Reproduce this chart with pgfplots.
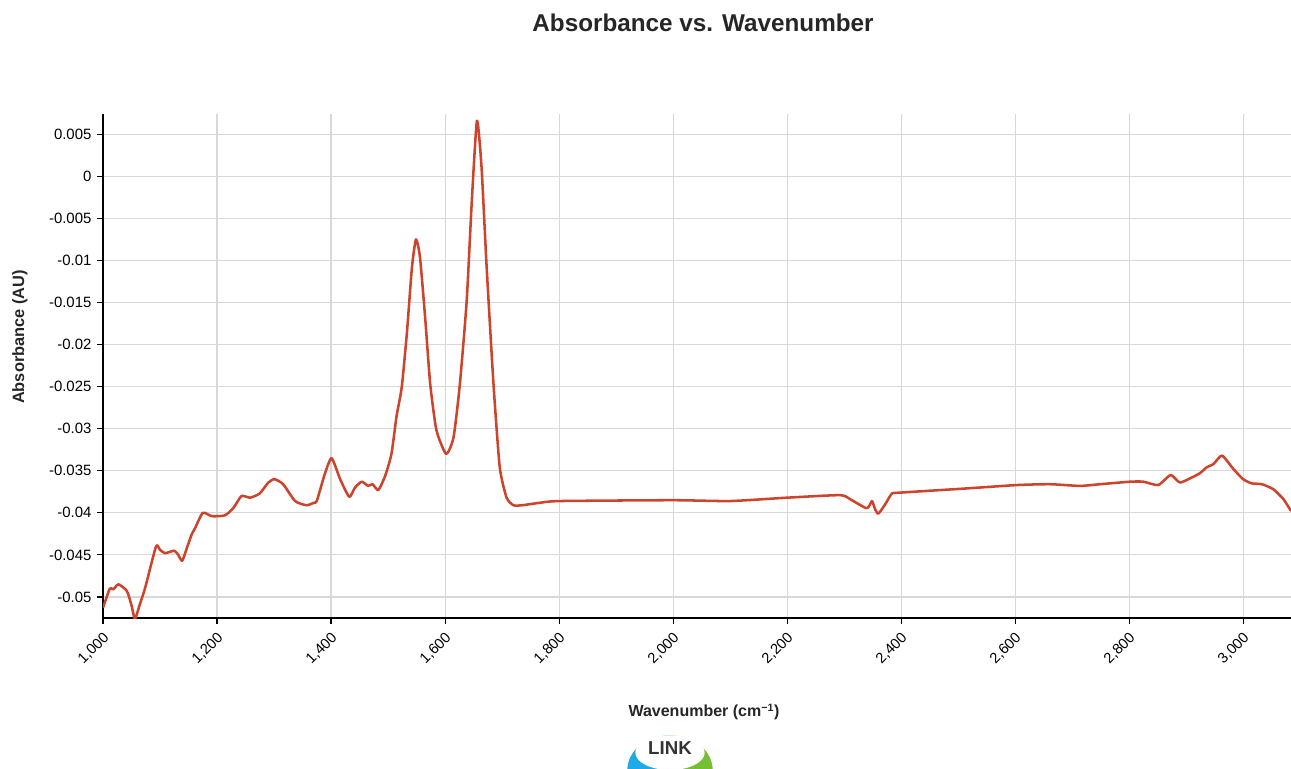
\documentclass[border=0pt]{standalone}
\usepackage{pgfplots}
\pgfplotsset{compat=1.18}
\usepackage{fontspec}
\setmainfont{Liberation Sans}
\definecolor{linec}{RGB}{204,68,44}
\definecolor{gridc}{RGB}{216,216,216}
\definecolor{logob}{RGB}{30,170,230}
\definecolor{logog}{RGB}{120,190,50}
\begin{document}
\begin{tikzpicture}
\path[use as bounding box] (-77.25pt,-112.5pt) rectangle (891pt,463.5pt);
\begin{axis}[at={(0pt,0pt)}, anchor=south west, scale only axis,
  width=891pt, height=378pt,
  xmin=1000, xmax=3084, ymin=-0.0525, ymax=0.0074,
  scaled y ticks=false, scaled x ticks=false,
  axis x line=bottom, axis y line=left,
  axis line style={-, black, line width=1.6pt},
  xtick={1000,1200,1400,1600,1800,2000,2200,2400,2600,2800,3000},
  xticklabels={1{,}000,1{,}200,1{,}400,1{,}600,1{,}800,2{,}000,2{,}200,2{,}400,2{,}600,2{,}800,3{,}000},
  ytick={0.005,0,-0.005,-0.01,-0.015,-0.02,-0.025,-0.03,-0.035,-0.04,-0.045,-0.05},
  yticklabels={0.005,0,-0.005,-0.01,-0.015,-0.02,-0.025,-0.03,-0.035,-0.04,-0.045,-0.05},
  grid=major, major grid style={gridc, line width=0.8pt},
  tick align=outside, major tick length=4.5pt,
  tick style={black, line width=0.8pt},
  xticklabel style={rotate=45, anchor=east, font=\fontsize{11}{12}\selectfont, inner sep=1pt, xshift=-3pt, yshift=-8pt},
  yticklabel style={font=\fontsize{11.2}{12}\selectfont, inner sep=4pt},
  clip=true,
]
\addplot[linec, line width=1.9pt, smooth, tension=0.35, line join=round] coordinates {
(1000,-0.0513) (1012,-0.0490) (1018,-0.0491) (1027,-0.0485) (1042,-0.0493)
(1050,-0.0510) (1056,-0.0526) (1065,-0.0508) (1074,-0.0489) (1093,-0.0440)
(1100,-0.0444) (1109,-0.0448) (1125,-0.0445) (1132,-0.0450) (1139,-0.0457)
(1148,-0.0440) (1156,-0.0425) (1161,-0.0419) (1175,-0.0400) (1191,-0.0404)
(1214,-0.0403) (1229,-0.0394) (1243,-0.0380) (1258,-0.0382) (1275,-0.0377)
(1290,-0.0364) (1301,-0.0360) (1316,-0.0366) (1337,-0.0386) (1357,-0.0391)
(1370,-0.0388) (1375,-0.0386) (1389,-0.0354) (1401,-0.0335) (1416,-0.0360)
(1432,-0.0381) (1442,-0.0370) (1454,-0.0363) (1465,-0.0368) (1473,-0.0366)
(1483,-0.0373) (1495,-0.0356) (1506,-0.0330) (1515,-0.0285) (1524,-0.0251)
(1533,-0.0187) (1542,-0.0108) (1549,-0.0075) (1556,-0.0096) (1565,-0.0167)
(1574,-0.0247) (1585,-0.0302) (1602,-0.0330) (1615,-0.0310) (1626,-0.0247)
(1638,-0.0148) (1647,-0.0029) (1656,0.0066) (1664,0.0011) (1673,-0.0108)
(1685,-0.0247) (1696,-0.0346) (1708,-0.0382) (1720,-0.0391) (1735,-0.0391)
(1767,-0.0388) (1802,-0.0386) (2000,-0.0385) (2100,-0.0386) (2200,-0.0382)
(2293,-0.0379) (2311,-0.0384) (2337,-0.0394) (2343,-0.0393) (2349,-0.0386)
(2354,-0.0395) (2360,-0.0401) (2372,-0.0390) (2384,-0.0377) (2398,-0.0376)
(2515,-0.0371) (2603,-0.0367) (2661,-0.0366) (2714,-0.0368) (2749,-0.0366)
(2802,-0.0363) (2825,-0.0363) (2851,-0.0367) (2873,-0.0355) (2889,-0.0364)
(2910,-0.0358) (2924,-0.0353) (2936,-0.0346) (2948,-0.0342) (2963,-0.0332)
(2983,-0.0348) (3000,-0.0360) (3015,-0.0365) (3033,-0.0366) (3053,-0.0372)
(3071,-0.0384) (3084,-0.0398)
};
\end{axis}
\node[font=\bfseries\fontsize{18.2}{21}\selectfont, text=black!85] at (450pt,446.25pt) {Absorbance vs. Wavenumber};
\node[font=\bfseries\fontsize{12}{14}\selectfont, text=black!85] at (450.75pt,-70.5pt) {Wavenumber (cm\textsuperscript{−1})};
\node[font=\bfseries\fontsize{12.3}{14}\selectfont, text=black!85, rotate=90] at (-62.25pt,210.75pt) {Absorbance (AU)};
% logo
\begin{scope}
\fill[logob] (425.25pt,-114pt) ++(-32pt,0) arc[start angle=180, end angle=90, x radius=32pt, y radius=26pt] -- (425.25pt,-114pt) -- cycle;
\fill[logog] (425.25pt,-114pt) ++(32pt,0) arc[start angle=0, end angle=90, x radius=32pt, y radius=26pt] -- (425.25pt,-114pt) -- cycle;
\fill[white] (425.25pt,-101pt) ellipse[x radius=26pt, y radius=13pt];
\node[font=\bfseries\fontsize{14}{15}\selectfont, text=black!80] at (425.25pt,-97.5pt) {LINK};
\end{scope}
\end{tikzpicture}
\end{document}
